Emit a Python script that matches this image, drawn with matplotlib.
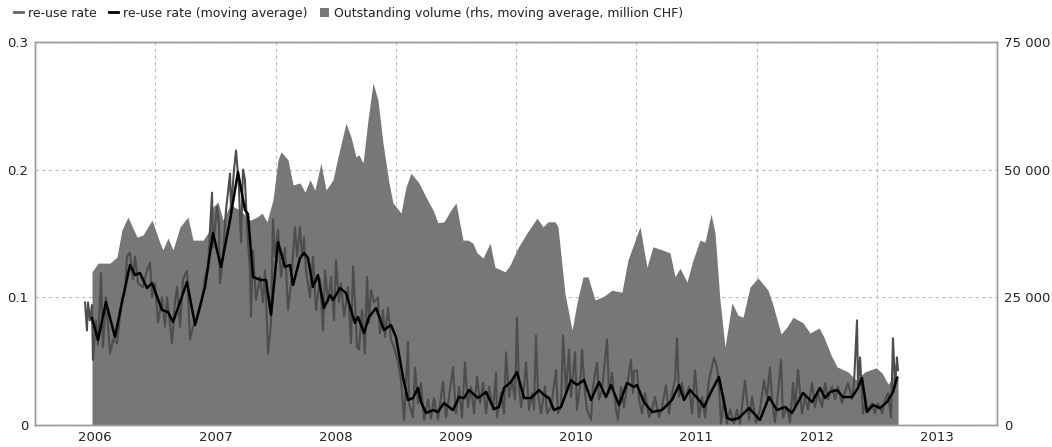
import matplotlib
matplotlib.use("Agg")
from matplotlib import pyplot as plt
from matplotlib.lines import Line2D
from matplotlib.patches import Patch
from matplotlib.ticker import FuncFormatter

# outstanding volume (rhs, moving average, million CHF), dates in decimal years
vol_dates = [2006.474, 2006.524, 2006.624, 2006.682, 2006.723, 2006.773, 2006.848, 2006.898, 2006.973,
             2007.040, 2007.064, 2007.106, 2007.148, 2007.206, 2007.272, 2007.314, 2007.397, 2007.439,
             2007.480, 2007.522, 2007.563, 2007.622, 2007.705, 2007.788, 2007.846, 2007.888, 2007.929, 2007.979,
             2008.021, 2008.046, 2008.104, 2008.146, 2008.204, 2008.245, 2008.287, 2008.328, 2008.378, 2008.420,
             2008.478, 2008.520, 2008.586, 2008.628, 2008.669, 2008.694, 2008.728, 2008.769, 2008.811, 2008.852,
             2008.894, 2008.944, 2008.977,
             2009.044, 2009.085, 2009.127, 2009.193, 2009.252, 2009.310, 2009.351, 2009.401, 2009.459, 2009.501,
             2009.559, 2009.601, 2009.642, 2009.676, 2009.726, 2009.784, 2009.825, 2009.909, 2009.950,
             2010.017, 2010.091, 2010.175, 2010.225, 2010.266, 2010.324, 2010.349, 2010.407, 2010.466, 2010.507,
             2010.557, 2010.599, 2010.657, 2010.724, 2010.798, 2010.881, 2010.931,
             2011.031, 2011.089, 2011.139, 2011.214, 2011.281, 2011.322, 2011.364, 2011.422, 2011.472, 2011.530,
             2011.572, 2011.622, 2011.655, 2011.696, 2011.738, 2011.796, 2011.846, 2011.888, 2011.946,
             2012.012, 2012.096, 2012.137, 2012.204, 2012.254, 2012.304, 2012.387, 2012.445, 2012.520, 2012.561,
             2012.620, 2012.669, 2012.761, 2012.827, 2012.902, 2012.994,
             2013.044, 2013.094, 2013.135, 2013.177]
vol_values = [29960, 31700, 31700, 32900, 38200, 40700, 36800, 37200, 40100,
              35600, 34300, 36600, 34300, 38800, 40700, 36200, 36200, 37600,
              42700, 43700, 40100, 43100, 42100, 40100, 40700, 41500, 39800, 44100,
              51900, 53500, 51900, 47000, 47400, 45600, 48000, 46000, 51300, 46000,
              48000, 52500, 59100, 56400, 52500, 52900, 51300, 59700, 67000, 63600,
              55200, 47400, 43500,
              41500, 46600, 49300, 47400, 44600, 42100, 39600, 39800, 42100, 43500,
              36200, 36200, 35600, 33700, 32700, 35600, 30900, 30000, 31300,
              34700, 37600, 40500, 38800, 39800, 39800, 38800, 25800, 18600, 23900,
              29000, 29000, 24500, 25100, 26400, 26000, 32300,
              38800, 30900, 34900, 34300, 33700, 29000, 30700, 28000, 32300, 36200,
              35800, 41300, 37600, 24500, 15300, 23900, 21500, 21100, 27000,
              28800, 26400, 23500, 17800, 19200, 21100, 20000, 18000, 19000, 17200,
              13700, 11400, 10400, 8800, 10400, 11200,
              10200, 8000, 9400, 9800]

# re-use rate, moving average
ma_dates = [2006.474, 2006.524, 2006.590, 2006.665, 2006.732, 2006.790, 2006.832, 2006.873, 2006.931, 2006.973,
            2007.056, 2007.106, 2007.148, 2007.264, 2007.331, 2007.414, 2007.480, 2007.547, 2007.622, 2007.663,
            2007.688, 2007.746, 2007.771, 2007.813, 2007.879, 2007.921, 2007.963,
            2008.021, 2008.079, 2008.121, 2008.146, 2008.204, 2008.237, 2008.270, 2008.312, 2008.353, 2008.403,
            2008.453, 2008.478, 2008.536, 2008.586, 2008.628, 2008.661, 2008.686, 2008.736, 2008.778, 2008.836,
            2008.902, 2008.960,
            2009.002, 2009.060, 2009.102, 2009.143, 2009.185, 2009.210, 2009.252, 2009.310, 2009.351, 2009.401,
            2009.476, 2009.526, 2009.568, 2009.609, 2009.684, 2009.751, 2009.817, 2009.859, 2009.900, 2009.958,
            2010.008, 2010.067, 2010.125, 2010.191, 2010.233, 2010.274, 2010.316, 2010.374, 2010.457, 2010.507,
            2010.565, 2010.624, 2010.690, 2010.748, 2010.790, 2010.857, 2010.923, 2010.981,
            2011.006, 2011.064, 2011.131, 2011.214, 2011.297, 2011.356, 2011.397, 2011.447, 2011.522, 2011.563,
            2011.630, 2011.688, 2011.755, 2011.796, 2011.854, 2011.938,
            2012.029, 2012.104, 2012.170, 2012.237, 2012.295, 2012.387, 2012.462, 2012.528, 2012.570, 2012.611,
            2012.669, 2012.719, 2012.794, 2012.844, 2012.877, 2012.919, 2012.969,
            2013.027, 2013.085, 2013.135, 2013.168]
ma_values = [0.0838, 0.0666, 0.0963, 0.0689, 0.1003, 0.1253, 0.1175, 0.1191, 0.1073, 0.1112,
             0.0901, 0.0885, 0.0807, 0.1120, 0.0783, 0.1081, 0.1504, 0.1238, 0.1606, 0.1841,
             0.1982, 0.1684, 0.1653, 0.1159, 0.1136, 0.1136, 0.0862,
             0.1433, 0.1238, 0.1253, 0.1097, 0.1308, 0.1347, 0.1308, 0.1081, 0.1175, 0.0916,
             0.1018, 0.0979, 0.1073, 0.1034, 0.0901, 0.0799, 0.0846, 0.0721, 0.0846, 0.0916,
             0.0744, 0.0783,
             0.0689, 0.0376, 0.0196, 0.0211, 0.0290, 0.0180, 0.0094, 0.0117, 0.0102, 0.0172,
             0.0117, 0.0219, 0.0211, 0.0274, 0.0211, 0.0258, 0.0125, 0.0141, 0.0290, 0.0337,
             0.0415, 0.0211, 0.0211, 0.0274, 0.0235, 0.0211, 0.0117, 0.0141, 0.0352, 0.0313,
             0.0352, 0.0196, 0.0337, 0.0219, 0.0313, 0.0157, 0.0329, 0.0298,
             0.0313, 0.0180, 0.0102, 0.0117, 0.0196, 0.0313, 0.0196, 0.0274, 0.0196, 0.0141,
             0.0274, 0.0376, 0.0055, 0.0039, 0.0055, 0.0133,
             0.0039, 0.0219, 0.0117, 0.0141, 0.0094, 0.0251, 0.0180, 0.0290, 0.0211, 0.0258,
             0.0274, 0.0219, 0.0219, 0.0290, 0.0368, 0.0102, 0.0157,
             0.0133, 0.0180, 0.0258, 0.0368]

# re-use rate, daily
rate_dates = [2006.416, 2006.432, 2006.441, 2006.457, 2006.474, 2006.482, 2006.507, 2006.524, 2006.549, 2006.565,
              2006.590, 2006.624, 2006.649, 2006.682, 2006.723, 2006.748, 2006.765, 2006.790, 2006.815, 2006.832,
              2006.857, 2006.898, 2006.931, 2006.956, 2006.973, 2006.998,
              2007.023, 2007.056, 2007.081, 2007.098, 2007.139, 2007.164, 2007.181, 2007.206, 2007.231, 2007.264,
              2007.289, 2007.314, 2007.347, 2007.389, 2007.414, 2007.439, 2007.472, 2007.480, 2007.514, 2007.530,
              2007.538, 2007.563, 2007.588, 2007.622, 2007.630, 2007.655, 2007.672, 2007.696, 2007.713, 2007.730,
              2007.746, 2007.763, 2007.788, 2007.796, 2007.813, 2007.838, 2007.871, 2007.896, 2007.913, 2007.938,
              2007.963, 2007.979, 2007.996,
              2008.021, 2008.046, 2008.079, 2008.104, 2008.129, 2008.162, 2008.179, 2008.204, 2008.220, 2008.237,
              2008.254, 2008.287, 2008.312, 2008.337, 2008.370, 2008.395, 2008.412, 2008.437, 2008.462, 2008.487,
              2008.503, 2008.528, 2008.545, 2008.570, 2008.603, 2008.628, 2008.645, 2008.661, 2008.678, 2008.694,
              2008.719, 2008.743, 2008.761, 2008.777, 2008.794, 2008.819, 2008.852, 2008.869, 2008.894, 2008.911,
              2008.936, 2008.960, 2008.985,
              2009.019, 2009.044, 2009.069, 2009.102, 2009.110, 2009.143, 2009.160, 2009.185, 2009.210, 2009.235,
              2009.268, 2009.293, 2009.318, 2009.351, 2009.393, 2009.418, 2009.443, 2009.476, 2009.501, 2009.526,
              2009.551, 2009.576, 2009.601, 2009.626, 2009.651, 2009.676, 2009.701, 2009.726, 2009.751, 2009.775,
              2009.809, 2009.834, 2009.842, 2009.875, 2009.900, 2009.917, 2009.942, 2009.967, 2009.992,
              2010.008, 2010.025, 2010.042, 2010.067, 2010.083, 2010.108, 2010.133, 2010.150, 2010.166, 2010.183,
              2010.208, 2010.241, 2010.258, 2010.291, 2010.333, 2010.349, 2010.374, 2010.391, 2010.416, 2010.441,
              2010.457, 2010.491, 2010.507, 2010.532, 2010.549, 2010.574, 2010.590, 2010.624, 2010.640, 2010.674,
              2010.690, 2010.715, 2010.757, 2010.773, 2010.798, 2010.832, 2010.848, 2010.873, 2010.898, 2010.923,
              2010.956, 2010.973, 2010.981,
              2011.006, 2011.023, 2011.048, 2011.073, 2011.106, 2011.131, 2011.156, 2011.189, 2011.214, 2011.247,
              2011.272, 2011.297, 2011.322, 2011.339, 2011.356, 2011.380, 2011.405, 2011.439, 2011.464, 2011.489,
              2011.522, 2011.547, 2011.572, 2011.605, 2011.647, 2011.672, 2011.688, 2011.705, 2011.730, 2011.755,
              2011.780, 2011.813, 2011.838, 2011.863, 2011.904, 2011.938, 2011.963, 2011.996,
              2012.029, 2012.062, 2012.087, 2012.112, 2012.129, 2012.154, 2012.170, 2012.204, 2012.220, 2012.254,
              2012.279, 2012.304, 2012.320, 2012.345, 2012.378, 2012.403, 2012.428, 2012.462, 2012.486, 2012.511,
              2012.545, 2012.570, 2012.595, 2012.628, 2012.653, 2012.678, 2012.711, 2012.736, 2012.761, 2012.794,
              2012.811, 2012.836, 2012.844, 2012.861, 2012.886, 2012.902, 2012.927, 2012.961, 2012.985,
              2013.010, 2013.044, 2013.069, 2013.094, 2013.119, 2013.135, 2013.152, 2013.168, 2013.177]
rate_values = [0.096, 0.074, 0.096, 0.082, 0.094, 0.051, 0.082, 0.063, 0.119, 0.061,
               0.100, 0.056, 0.067, 0.064, 0.098, 0.103, 0.132, 0.135, 0.114, 0.132,
               0.111, 0.108, 0.121, 0.127, 0.100, 0.111,
               0.080, 0.100, 0.077, 0.100, 0.064, 0.096, 0.108, 0.077, 0.114, 0.121,
               0.067, 0.077, 0.082, 0.098, 0.116, 0.124, 0.182, 0.139, 0.171, 0.158,
               0.111, 0.132, 0.168, 0.197, 0.168, 0.200, 0.215, 0.186, 0.143, 0.200,
               0.192, 0.155, 0.121, 0.085, 0.137, 0.098, 0.116, 0.096, 0.121, 0.056,
               0.080, 0.161, 0.132,
               0.153, 0.116, 0.139, 0.090, 0.111, 0.155, 0.132, 0.155, 0.132, 0.147,
               0.121, 0.100, 0.132, 0.090, 0.114, 0.074, 0.121, 0.096, 0.116, 0.082,
               0.129, 0.096, 0.111, 0.085, 0.108, 0.064, 0.124, 0.096, 0.061, 0.059,
               0.090, 0.056, 0.116, 0.080, 0.106, 0.096, 0.100, 0.072, 0.090, 0.069,
               0.092, 0.067, 0.061,
               0.049, 0.035, 0.004, 0.065, 0.017, 0.006, 0.045, 0.017, 0.033, 0.004,
               0.020, 0.005, 0.021, 0.004, 0.034, 0.006, 0.022, 0.045, 0.009, 0.030,
               0.006, 0.049, 0.014, 0.030, 0.009, 0.038, 0.017, 0.033, 0.009, 0.030,
               0.012, 0.041, 0.006, 0.025, 0.009, 0.057, 0.022, 0.035, 0.020,
               0.084, 0.030, 0.014, 0.030, 0.049, 0.012, 0.025, 0.012, 0.070, 0.025,
               0.009, 0.030, 0.009, 0.014, 0.043, 0.009, 0.014, 0.070, 0.025, 0.059,
               0.022, 0.057, 0.012, 0.030, 0.059, 0.025, 0.012, 0.004, 0.030, 0.049,
               0.020, 0.027, 0.067, 0.025, 0.041, 0.012, 0.004, 0.030, 0.014, 0.030,
               0.051, 0.025, 0.042,
               0.043, 0.020, 0.009, 0.025, 0.006, 0.012, 0.022, 0.006, 0.014, 0.031,
               0.009, 0.025, 0.035, 0.068, 0.022, 0.033, 0.020, 0.030, 0.009, 0.043,
               0.006, 0.022, 0.006, 0.035, 0.053, 0.045, 0.030, 0.001, 0.022, 0.001,
               0.012, 0.001, 0.012, 0.001, 0.035, 0.004, 0.022, 0.002,
               0.012, 0.035, 0.022, 0.045, 0.020, 0.002, 0.017, 0.051, 0.006, 0.014,
               0.002, 0.033, 0.012, 0.043, 0.009, 0.022, 0.012, 0.033, 0.014, 0.025,
               0.014, 0.033, 0.020, 0.030, 0.020, 0.030, 0.017, 0.026, 0.033, 0.020,
               0.033, 0.082, 0.030, 0.053, 0.009, 0.017, 0.012, 0.017, 0.009,
               0.017, 0.009, 0.020, 0.025, 0.006, 0.068, 0.030, 0.053, 0.043]

years = list(range(2006, 2014))

area_col = "#777777"
rate_col = "#4d4d4d"
frame_col = "#9a9a9a"
text_col = "#222222"

plt.rcParams['font.family'] = ['DejaVu Sans']
plt.rcParams['font.size'] = 9.5

fig = plt.figure(figsize=(10.52, 4.47), dpi=100)
ax = fig.add_axes([35 / 1052, 22 / 447, 962 / 1052, 383 / 447])
ax2 = ax.twinx()

# volume area on the right axis, drawn underneath
ax2.fill_between(vol_dates, vol_values, 0, color=area_col, linewidth=0, zorder=1)
ax2.set_ylim(0, 75000)
ax2.set_yticks([0, 25000, 50000, 75000])
ax2.yaxis.set_major_formatter(FuncFormatter(lambda v, p: f"{int(v):,}".replace(",", " ")))

# rates on the left axis, on top
ax.plot(rate_dates, rate_values, color=rate_col, lw=1.5, zorder=2)
ax.plot(ma_dates, ma_values, color="black", lw=1.8, zorder=3)
ax.set_ylim(0, 0.3)
ax.set_yticks([0, 0.1, 0.2, 0.3])
ax.yaxis.set_major_formatter(FuncFormatter(lambda v, p: "0" if v == 0 else f"{v:.1f}"))

ax.set_zorder(ax2.get_zorder() + 1)
ax.patch.set_visible(False)

ax.set_xlim(2006, 2014)
ax.set_xticks([y + 0.5 for y in years])
ax.set_xticklabels([str(y) for y in years])
ax.set_xticks(years[1:], minor=True)

# grid lives on the back axes so the area hides it
ax2.xaxis.set_visible(True)
ax2.set_axisbelow(True)
ax2.tick_params(axis="x", which="both", labelbottom=False, length=0)
ax2.grid(axis="x", which="minor", color="#bbbbbb", linestyle=(0, (3, 3)), linewidth=0.8)
ax2.grid(axis="y", which="major", color="#bbbbbb", linestyle=(0, (3, 3)), linewidth=0.8)

for a in (ax, ax2):
    for s in a.spines.values():
        s.set_color(frame_col)
        s.set_linewidth(1.0)
    a.tick_params(axis="both", which="both", length=0, colors=text_col, labelsize=9.5)
ax.tick_params(axis="y", pad=5)
ax2.tick_params(axis="y", pad=5)
ax.tick_params(axis="x", pad=4)

handles = [Line2D([0], [0], color="#666666", lw=2),
           Line2D([0], [0], color="black", lw=2),
           Patch(facecolor=area_col, edgecolor="none")]
labels = ["re-use rate", "re-use rate (moving average)",
          "Outstanding volume (rhs, moving average, million CHF)"]
fig.legend(handles, labels, loc="upper left", bbox_to_anchor=(0.003, 1.01), ncol=3,
           frameon=False, handlelength=0.7, handleheight=0.7, handletextpad=0.4,
           columnspacing=1.0, fontsize=9, labelcolor=text_col)

fig.savefig("out.png", dpi=100)
